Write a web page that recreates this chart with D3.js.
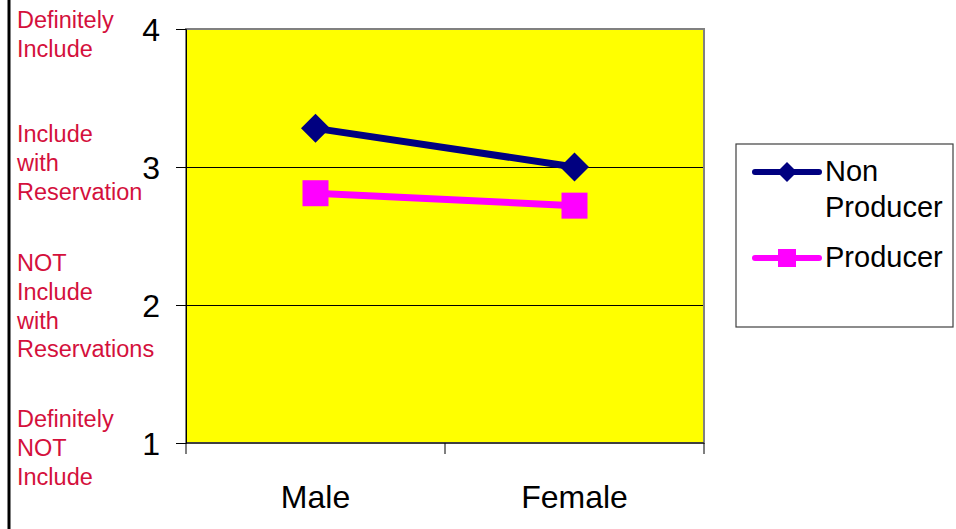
<!DOCTYPE html>
<html>
<head>
<meta charset="utf-8">
<script src="https://cdn.jsdelivr.net/npm/d3@7"></script>
<style>
  body { margin: 0; background: #fff; }
  text { font-family: Arial, "Liberation Sans", sans-serif; }
</style>
</head>
<body>
<div id="chart"></div>
<script>
var categories = ["Male", "Female"];
var seriesNames = ["Non Producer", "Producer"];
var nonProducer = [3.28, 3.0];
var producer = [2.81, 2.72];
var yTicks = [1, 2, 3, 4];
var sideLabels = [
  { value: 4, lines: ["Definitely", "Include"] },
  { value: 3, lines: ["Include", "with", "Reservation"] },
  { value: 2, lines: ["NOT", "Include", "with", "Reservations"] },
  { value: 1, lines: ["Definitely", "NOT", "Include"] }
];

var width = 956, height = 529;
var margin = { top: 29, right: 252, bottom: 86, left: 186 };
var plotW = width - margin.left - margin.right,
    plotH = height - margin.top - margin.bottom;

var svg = d3.select("#chart").append("svg")
  .attr("width", width)
  .attr("height", height);

// outer left rule
svg.append("line")
  .attr("x1", 9).attr("x2", 9).attr("y1", 0).attr("y2", height)
  .attr("stroke", "#000").attr("stroke-width", 3);

var x = d3.scaleBand().domain(categories).range([0, plotW]);
var y = d3.scaleLinear().domain([1, 4]).range([plotH, 0]);

var g = svg.append("g").attr("transform", "translate(" + margin.left + "," + margin.top + ")");

g.append("rect")
  .attr("width", plotW).attr("height", plotH)
  .attr("fill", "#ffff00");

// gridlines
g.selectAll(".grid").data([2, 3]).enter().append("line")
  .attr("x1", 0).attr("x2", plotW)
  .attr("y1", function (d) { return y(d) + 0.5; })
  .attr("y2", function (d) { return y(d) + 0.5; })
  .attr("stroke", "#000").attr("stroke-width", 1)
  .attr("shape-rendering", "crispEdges");

g.append("rect")
  .attr("width", plotW).attr("height", plotH)
  .attr("fill", "none").attr("stroke", "#808080").attr("stroke-width", 2);

// y axis
var yAxis = g.append("g")
  .call(d3.axisLeft(y).tickValues(yTicks).tickSize(10).tickPadding(16).tickFormat(d3.format("d")));
yAxis.select(".domain").attr("stroke", "#000");
yAxis.selectAll("text").attr("font-size", 32).attr("fill", "#000").attr("dy", "0.36em");

// x axis
var xTickPos = [0, plotW / 2, plotW];
var xAxis = g.append("g").attr("transform", "translate(0," + plotH + ")");
xAxis.append("line").attr("x1", 0).attr("x2", plotW).attr("stroke", "#000");
xAxis.selectAll(".xt").data(xTickPos).enter().append("line")
  .attr("x1", function (d) { return d; }).attr("x2", function (d) { return d; })
  .attr("y1", 0).attr("y2", 11).attr("stroke", "#000");
xAxis.selectAll(".xl").data(categories).enter().append("text")
  .attr("x", function (d) { return x(d) + x.bandwidth() / 2; })
  .attr("y", 65)
  .attr("text-anchor", "middle")
  .attr("font-size", 32)
  .text(function (d) { return d; });

// side category labels
var lineH = 28.8;
var labelTops = { 4: 28, 3: 142, 2: 271, 1: 427 };
sideLabels.forEach(function (s) {
  s.lines.forEach(function (t, i) {
    svg.append("text")
      .attr("x", 17)
      .attr("y", labelTops[s.value] + i * lineH)
      .attr("font-size", 23.5)
      .attr("fill", "#d4103c")
      .text(t);
  });
});

// series
var series = [
  { name: seriesNames[0], values: nonProducer, color: "#000080", marker: "diamond" },
  { name: seriesNames[1], values: producer, color: "#ff00ff", marker: "square" }
];

var line = d3.line()
  .x(function (d, i) { return x(categories[i]) + x.bandwidth() / 2; })
  .y(function (d) { return y(d); });

function drawMarker(sel, type, size) {
  if (type == "diamond") {
    sel.append("path")
      .attr("d", "M0," + (-size) + "L" + size + ",0L0," + size + "L" + (-size) + ",0Z");
  } else {
    sel.append("rect")
      .attr("x", -size).attr("y", -size)
      .attr("width", size * 2).attr("height", size * 2);
  }
}

series.forEach(function (s) {
  g.append("path")
    .attr("d", line(s.values))
    .attr("fill", "none")
    .attr("stroke", s.color)
    .attr("stroke-width", 7);
  s.values.forEach(function (v, i) {
    var m = g.append("g")
      .attr("transform", "translate(" + (x(categories[i]) + x.bandwidth() / 2) + "," + y(v) + ")")
      .attr("fill", s.color);
    drawMarker(m, s.marker, s.marker == "diamond" ? 14.5 : 13);
  });
});

// legend
var legend = svg.append("g").attr("transform", "translate(736,144)");
legend.append("rect")
  .attr("width", 217).attr("height", 183)
  .attr("fill", "#fff").attr("stroke", "#404040").attr("stroke-width", 1.2);

var legendRows = [
  { s: series[0], cy: 28, lines: ["Non", "Producer"] },
  { s: series[1], cy: 114, lines: ["Producer"] }
];
legendRows.forEach(function (r) {
  legend.append("line")
    .attr("x1", 19).attr("x2", 83)
    .attr("y1", r.cy).attr("y2", r.cy)
    .attr("stroke", r.s.color).attr("stroke-width", 6)
    .attr("stroke-linecap", "round");
  var m = legend.append("g")
    .attr("transform", "translate(51," + r.cy + ")")
    .attr("fill", r.s.color);
  drawMarker(m, r.s.marker, r.s.marker == "diamond" ? 10 : 9);
  r.lines.forEach(function (t, i) {
    legend.append("text")
      .attr("x", 89)
      .attr("y", r.cy + 9 + i * 36)
      .attr("font-size", 29)
      .text(t);
  });
});
</script>
</body>
</html>
